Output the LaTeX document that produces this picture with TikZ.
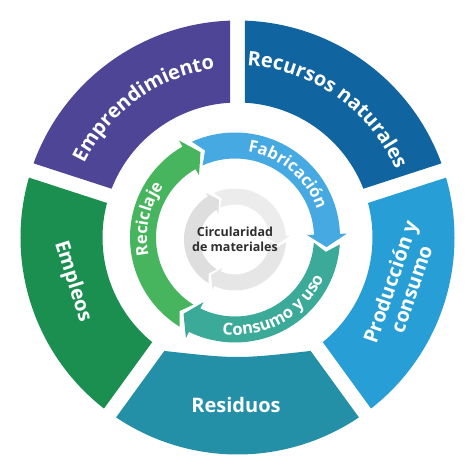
\documentclass[tikz,border=0pt]{standalone}
\usepackage{fontspec}
\setmainfont{Open Sans}
\usetikzlibrary{decorations.text}
\definecolor{cEmp}{HTML}{4E4596}
\definecolor{cRec}{HTML}{10649F}
\definecolor{cPro}{HTML}{279ED6}
\definecolor{cRes}{HTML}{2490A8}
\definecolor{cEmpl}{HTML}{1A8F50}
\definecolor{cFab}{HTML}{46A9E1}
\definecolor{cCon}{HTML}{3BAA99}
\definecolor{cRecic}{HTML}{47B45E}
\definecolor{gA}{HTML}{ECECEC}
\definecolor{gB}{HTML}{E6E6E6}
\definecolor{gC}{HTML}{DEDEDE}
\definecolor{ctext}{HTML}{2E2E2E}
\newcommand\segfont{\bfseries\fontsize{20}{22}\selectfont}
\newcommand\arrfont{\bfseries\fontsize{16.5}{18}\selectfont}
% outer segment: colour, start angle, end angle
\newcommand\outerseg[3]{\fill[#1] ({#2+1.98}:217) arc[start angle={#2+1.98}, end angle={#3-1.98}, radius=217] -- ({#3-3.185}:135) arc[start angle={#3-3.185}, end angle={#2+3.185}, radius=135] -- cycle;}
% ring arrow: colour, tail corner, tail notch, head base, tip, rin, rout, head in, head out
\newcommand\ringarr[9]{\fill[#1] (#2:#7) arc[start angle=#2, end angle=#4, radius=#7] -- (#4:#9) -- (#5:{(#6+#7)/2}) -- (#4:#8) -- (#4:#6) arc[start angle=#4, end angle=#2, radius=#6] -- (#3:{(#6+#7)/2}) -- cycle;}
\tikzset{
  segtext/.style={text=white, font=\segfont, inner sep=0pt},
}
\begin{document}
\begin{tikzpicture}[x=1pt,y=1pt]
\useasboundingbox (-237.5,-236.5) rectangle (236.5,237.5);
\fill[white] (-237.5,-236.5) rectangle (236.5,237.5);
% outer segments
\outerseg{cRec}{18}{90}
\outerseg{cEmp}{90}{162}
\outerseg{cEmpl}{162}{234}
\outerseg{cPro}{-54}{18}
\fill[cRes] (235.98:217) arc[start angle=235.98, end angle=304.02, radius=217] -- (302.815:135) .. controls (0,-121.5) .. (237.185:135) -- cycle;
% outer texts
\path[decorate, decoration={text along path, text align=center, text={|\color{white}\segfont|Emprendimiento}}] (162:170) arc[start angle=162, end angle=90, radius=170];
\path[decorate, decoration={text along path, text align=center, text={|\color{white}\segfont|Recursos naturales}}] (90:172) arc[start angle=90, end angle=20, radius=172];
\node[segtext, rotate=-72.5] (empl) at (-165,-44) {Empleos};
\node[segtext] (resid) at (-1.5,-167.5) {Residuos};
\node[segtext, rotate=71, align=center] (prod) at (163,-48) {Producción y\\consumo};
% coloured inner ring
\begin{scope}[shift={(-2.5,0)}]
\ringarr{cFab}{114.2}{109}{2}{-6}{79}{105}{72}{112}
\ringarr{cCon}{-3.8}{-9}{-116}{-124}{79}{105}{72}{112}
\ringarr{cRecic}{238.2}{233}{120}{112}{79}{105}{72}{112}
\path[decorate, decoration={text along path, text align=center, text={|\color{white}\arrfont|Fabricación}}] (100:86.5) arc[start angle=100, end angle=0, radius=86.5];
\path[decorate, decoration={text along path, text align=center, text={|\color{white}\arrfont|Consumo y uso}}] (-111:97.5) arc[start angle=-111, end angle=-11, radius=97.5];
\path[decorate, decoration={text along path, text align=center, text={|\color{white}\arrfont|Reciclaje}}] (208:88) arc[start angle=208, end angle=128, radius=88];
\end{scope}
% grey centre ring
\begin{scope}[shift={(-2.5,-2)}]
\ringarr{gA}{114.7}{108}{4}{-6}{35}{51}{31}{55}
\ringarr{gB}{-3.3}{-10}{-114}{-124}{35}{51}{31}{55}
\ringarr{gC}{238.7}{232}{122}{112}{35}{51}{31}{55}
\end{scope}
\node[font=\bfseries\fontsize{12.5}{15}\selectfont, text=ctext, align=center] (center) at (-2.5,-2) {Circularidad\\de materiales};
\end{tikzpicture}
\end{document}
